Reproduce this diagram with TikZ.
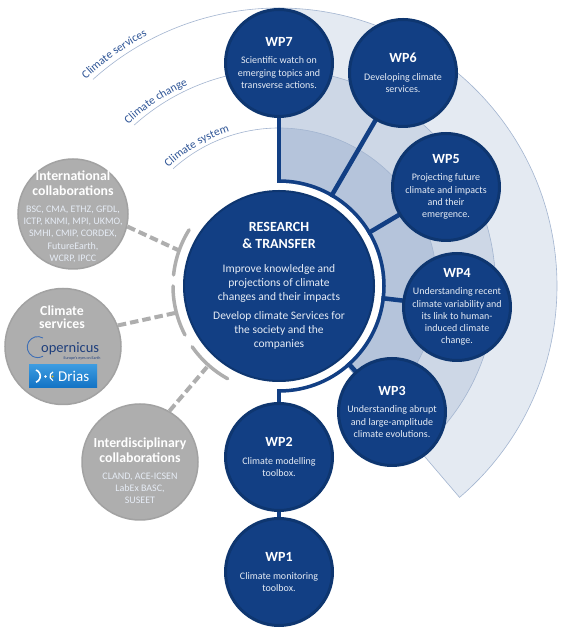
\documentclass[tikz,border=0pt]{standalone}
\usepackage{fontspec}
\setmainfont{Carlito}
\usetikzlibrary{calc,decorations.text}
\pgfdeclarelayer{bg}
\pgfsetlayers{bg,main}
\definecolor{wpblue}{HTML}{123F84}
\definecolor{wpedge}{HTML}{0E3670}
\definecolor{secA}{HTML}{E4EAF2}
\definecolor{secB}{HTML}{CDD7E6}
\definecolor{secC}{HTML}{B5C4DB}
\definecolor{secline}{HTML}{A3B5D0}
\definecolor{grayfill}{HTML}{AEAEAE}
\definecolor{grayedge}{HTML}{A2A2A2}
\definecolor{labelblue}{HTML}{2F5597}
\definecolor{softwhite}{HTML}{E6ECF5}
\definecolor{copblue}{HTML}{1F3F7C}
\definecolor{copring}{HTML}{3F6FB5}
\definecolor{copgold}{HTML}{E8B820}
\definecolor{driasA}{HTML}{3C9BE0}
\definecolor{driasB}{HTML}{1272C4}
\newcommand{\ctr}[1]{\makebox[0pt]{\parbox[c]{200pt}{\centering #1}}}
\newcommand{\bodytext}[1]{{\fontsize{10}{12.3}\selectfont\color{softwhite}#1\par}}
\newcommand{\wptitle}[1]{{\fontsize{14}{14}\selectfont\bfseries\color{white}#1\par}\vspace{5pt}}
\newcommand{\graytitle}[1]{{\fontsize{13.8}{15}\selectfont\bfseries\color{white}#1\par}\vspace{4pt}}
\newcommand{\graybody}[1]{{\fontsize{10}{12.4}\selectfont\color{softwhite}#1\par}}
\newcommand{\mainbody}[1]{{\fontsize{11.5}{14}\selectfont\color{softwhite}#1\par}}
\newcommand{\labelfont}{\fontsize{11.5}{11.5}\selectfont}
\tikzset{
  x=1pt,y=1pt,
  wpnode/.style={circle,draw=wpedge,fill=wpblue,line width=3pt,minimum size=107pt,inner sep=0pt},
  graynode/.style={circle,draw=grayedge,fill=grayfill,line width=1.5pt,inner sep=0pt},
  wplink/.style={draw=wpblue,line width=4.5pt},
  graylink/.style={draw=grayfill,line width=4pt,dash pattern=on 8.5pt off 4pt},
  grayarc/.style={draw=grayfill,line width=3.5pt,line cap=round},
  secarc/.style={draw=secline,line width=0.6pt},
  curvelabel/.style={decorate,decoration={text along path,text color=labelblue,text align=left}}
}
\begin{document}
\begin{tikzpicture}
\useasboundingbox (0,0) rectangle (563,631);
\coordinate (c) at (279,345);
% main circle
\node[circle,draw=wpedge,fill=wpblue,line width=2pt,minimum size=190pt,inner sep=0pt] (main) at (c)
 {\ctr{{\fontsize{14}{17}\selectfont\bfseries\color{white}RESEARCH\\\& TRANSFER\par}\vspace{10pt}
  \mainbody{Improve knowledge and\\projections of climate\\changes and their impacts}\vspace{5pt}
  \mainbody{Develop climate Services for\\the society and the\\companies}}};
% work packages
\node[wpnode] (wp7) at (279,568) {\ctr{\wptitle{WP7}\bodytext{Scientific watch on\\emerging topics and\\transverse actions.}}};
\node[wpnode] (wp6) at (403,558) {\ctr{\wptitle{WP6}\bodytext{Developing climate\\services.}}};
\node[wpnode] (wp5) at (446,444) {\ctr{\wptitle{WP5}\bodytext{Projecting future\\climate and impacts\\and their\\emergence.}}};
\node[wpnode] (wp4) at (457,324) {\ctr{\wptitle{WP4}\bodytext{Understanding recent\\climate variability and\\its link to human-\\induced climate\\change.}}};
\node[wpnode] (wp3) at (392,219) {\ctr{\wptitle{WP3}\bodytext{Understanding abrupt\\and large-amplitude\\climate evolutions.}}};
\node[wpnode] (wp2) at (279,174) {\ctr{\wptitle{WP2}\bodytext{Climate modelling\\toolbox.}}};
\node[wpnode] (wp1) at (279,59) {\ctr{\wptitle{WP1}\bodytext{Climate monitoring\\toolbox.}}};
% grey circles
\node[graynode,minimum size=110pt] (intl) at (73,417) {};
\node[inner sep=0pt] (intlt) at (73,414) {\ctr{\graytitle{International\\collaborations}\graybody{BSC, CMA, ETHZ, GFDL,\\ICTP, KNMI, MPI, UKMO,\\SMHI, CMIP, CORDEX,\\FutureEarth,\\WCRP, IPCC}}};
\node[graynode,minimum size=116pt] (serv) at (63,284.5) {};
\node[inner sep=0pt] (servt) at (62,314) {\ctr{{\fontsize{13.8}{13.5}\selectfont\bfseries\color{white}Climate\\services\par}}};
\node[graynode,minimum size=116pt] (inter) at (140,169) {};
\node[inner sep=0pt] (intert) at (140,160) {\ctr{\graytitle{Interdisciplinary\\collaborations}\graybody{CLAND, ACE-ICSEN\\LabEx BASC,\\SUSEET}}};
% Copernicus logo
\draw[draw=copring,line width=0.9pt] (43,293) arc[start angle=60,end angle=300,radius=10.5];
\node[inner sep=0pt,font=\fontsize{14.5}{14.5}\selectfont,text=copblue,anchor=base west] (coptext) at (41,278.5) {opernicus};
\node[inner sep=0pt,font=\fontsize{4}{4}\selectfont,text=copblue] (coptag) at (82,273) {Europe's eyes on Earth};
% Drias logo
\node[inner sep=0pt,minimum width=68pt,minimum height=23pt,top color=driasA,bottom color=driasB] (drias) at (63,254.5) {};
\node[inner sep=0pt,font=\fontsize{15}{15}\selectfont,text=white,anchor=base west] (driast) at (58,249) {Drias};
\draw[white,line width=1.6pt] (36,261) arc[start angle=70,end angle=-70,radius=6.5];
\draw[white,line width=1.2pt] (53,259) arc[start angle=110,end angle=250,radius=4.6];
\fill[white] (45.5,254.5) circle[radius=1.4];
\fill[copgold] (52.5,254.5) circle[radius=1.2];
% curved labels
\path[curvelabel,decoration={text={|\labelfont|Climate services}}] ($(c)+(133:283)$) arc[start angle=133,end angle=105,radius=283];
\path[curvelabel,decoration={text={|\labelfont|Climate change}}] ($(c)+(133:221)$) arc[start angle=133,end angle=100,radius=221];
\path[curvelabel,decoration={text={|\labelfont|Climate system}}] ($(c)+(133:162)$) arc[start angle=133,end angle=90,radius=162];
\begin{pgfonlayer}{bg}
 \fill[white] (0,0) rectangle (563,631);
 % sectors
 \filldraw[fill=secA,secarc] (c) -- ++(-49.5:278) arc[start angle=-49.5,end angle=90,radius=278] -- cycle;
 \filldraw[fill=secB,secarc] (c) -- ++(-49.5:216.5) arc[start angle=-49.5,end angle=90,radius=216.5] -- cycle;
 \filldraw[fill=secC,secarc] (c) -- ++(-49.5:158) arc[start angle=-49.5,end angle=90,radius=158] -- cycle;
 % long thin arcs
 \draw[secarc] ($(c)+(132:278)$) arc[start angle=132,end angle=90,radius=278];
 \draw[secarc] ($(c)+(132:216.5)$) arc[start angle=132,end angle=90,radius=216.5];
 \draw[secarc] ($(c)+(132:158)$) arc[start angle=132,end angle=90,radius=158];
 % connectors
 \draw[wplink] (main.center) -- (wp7.center);
 \draw[wplink] (main.center) -- (wp6.center);
 \draw[wplink] (main.center) -- (wp5.center);
 \draw[wplink] (main.center) -- (wp4.center);
 \draw[wplink] (main.center) -- (wp3.center);
 \draw[wplink] (main.center) -- (wp2.center);
 \draw[wplink] (wp2.center) -- (wp1.center);
 % ring round the main circle
 \fill[white] (c) circle[radius=103];
 \draw[wpblue,line width=3.5pt] ($(c)+(90:105)$) arc[start angle=90,end angle=-90,radius=105];
 % grey arcs and dashed links
 \coordinate (a1) at (178,381);
 \coordinate (a2) at (175,318);
 \coordinate (a3) at (207,264);
 \draw[grayarc] ($(c)+(148:106)$) arc[start angle=148,end angle=174,radius=106];
 \draw[grayarc] ($(c)+(180:106)$) arc[start angle=180,end angle=207.5,radius=106];
 \draw[grayarc] ($(c)+(215:106)$) arc[start angle=215,end angle=241,radius=106];
 \draw[graylink] (intl.-13) -- (a1);
 \draw[graylink] (serv.21) -- (a2);
 \draw[graylink] (inter.60) -- (a3);
\end{pgfonlayer}
\end{tikzpicture}
\end{document}
